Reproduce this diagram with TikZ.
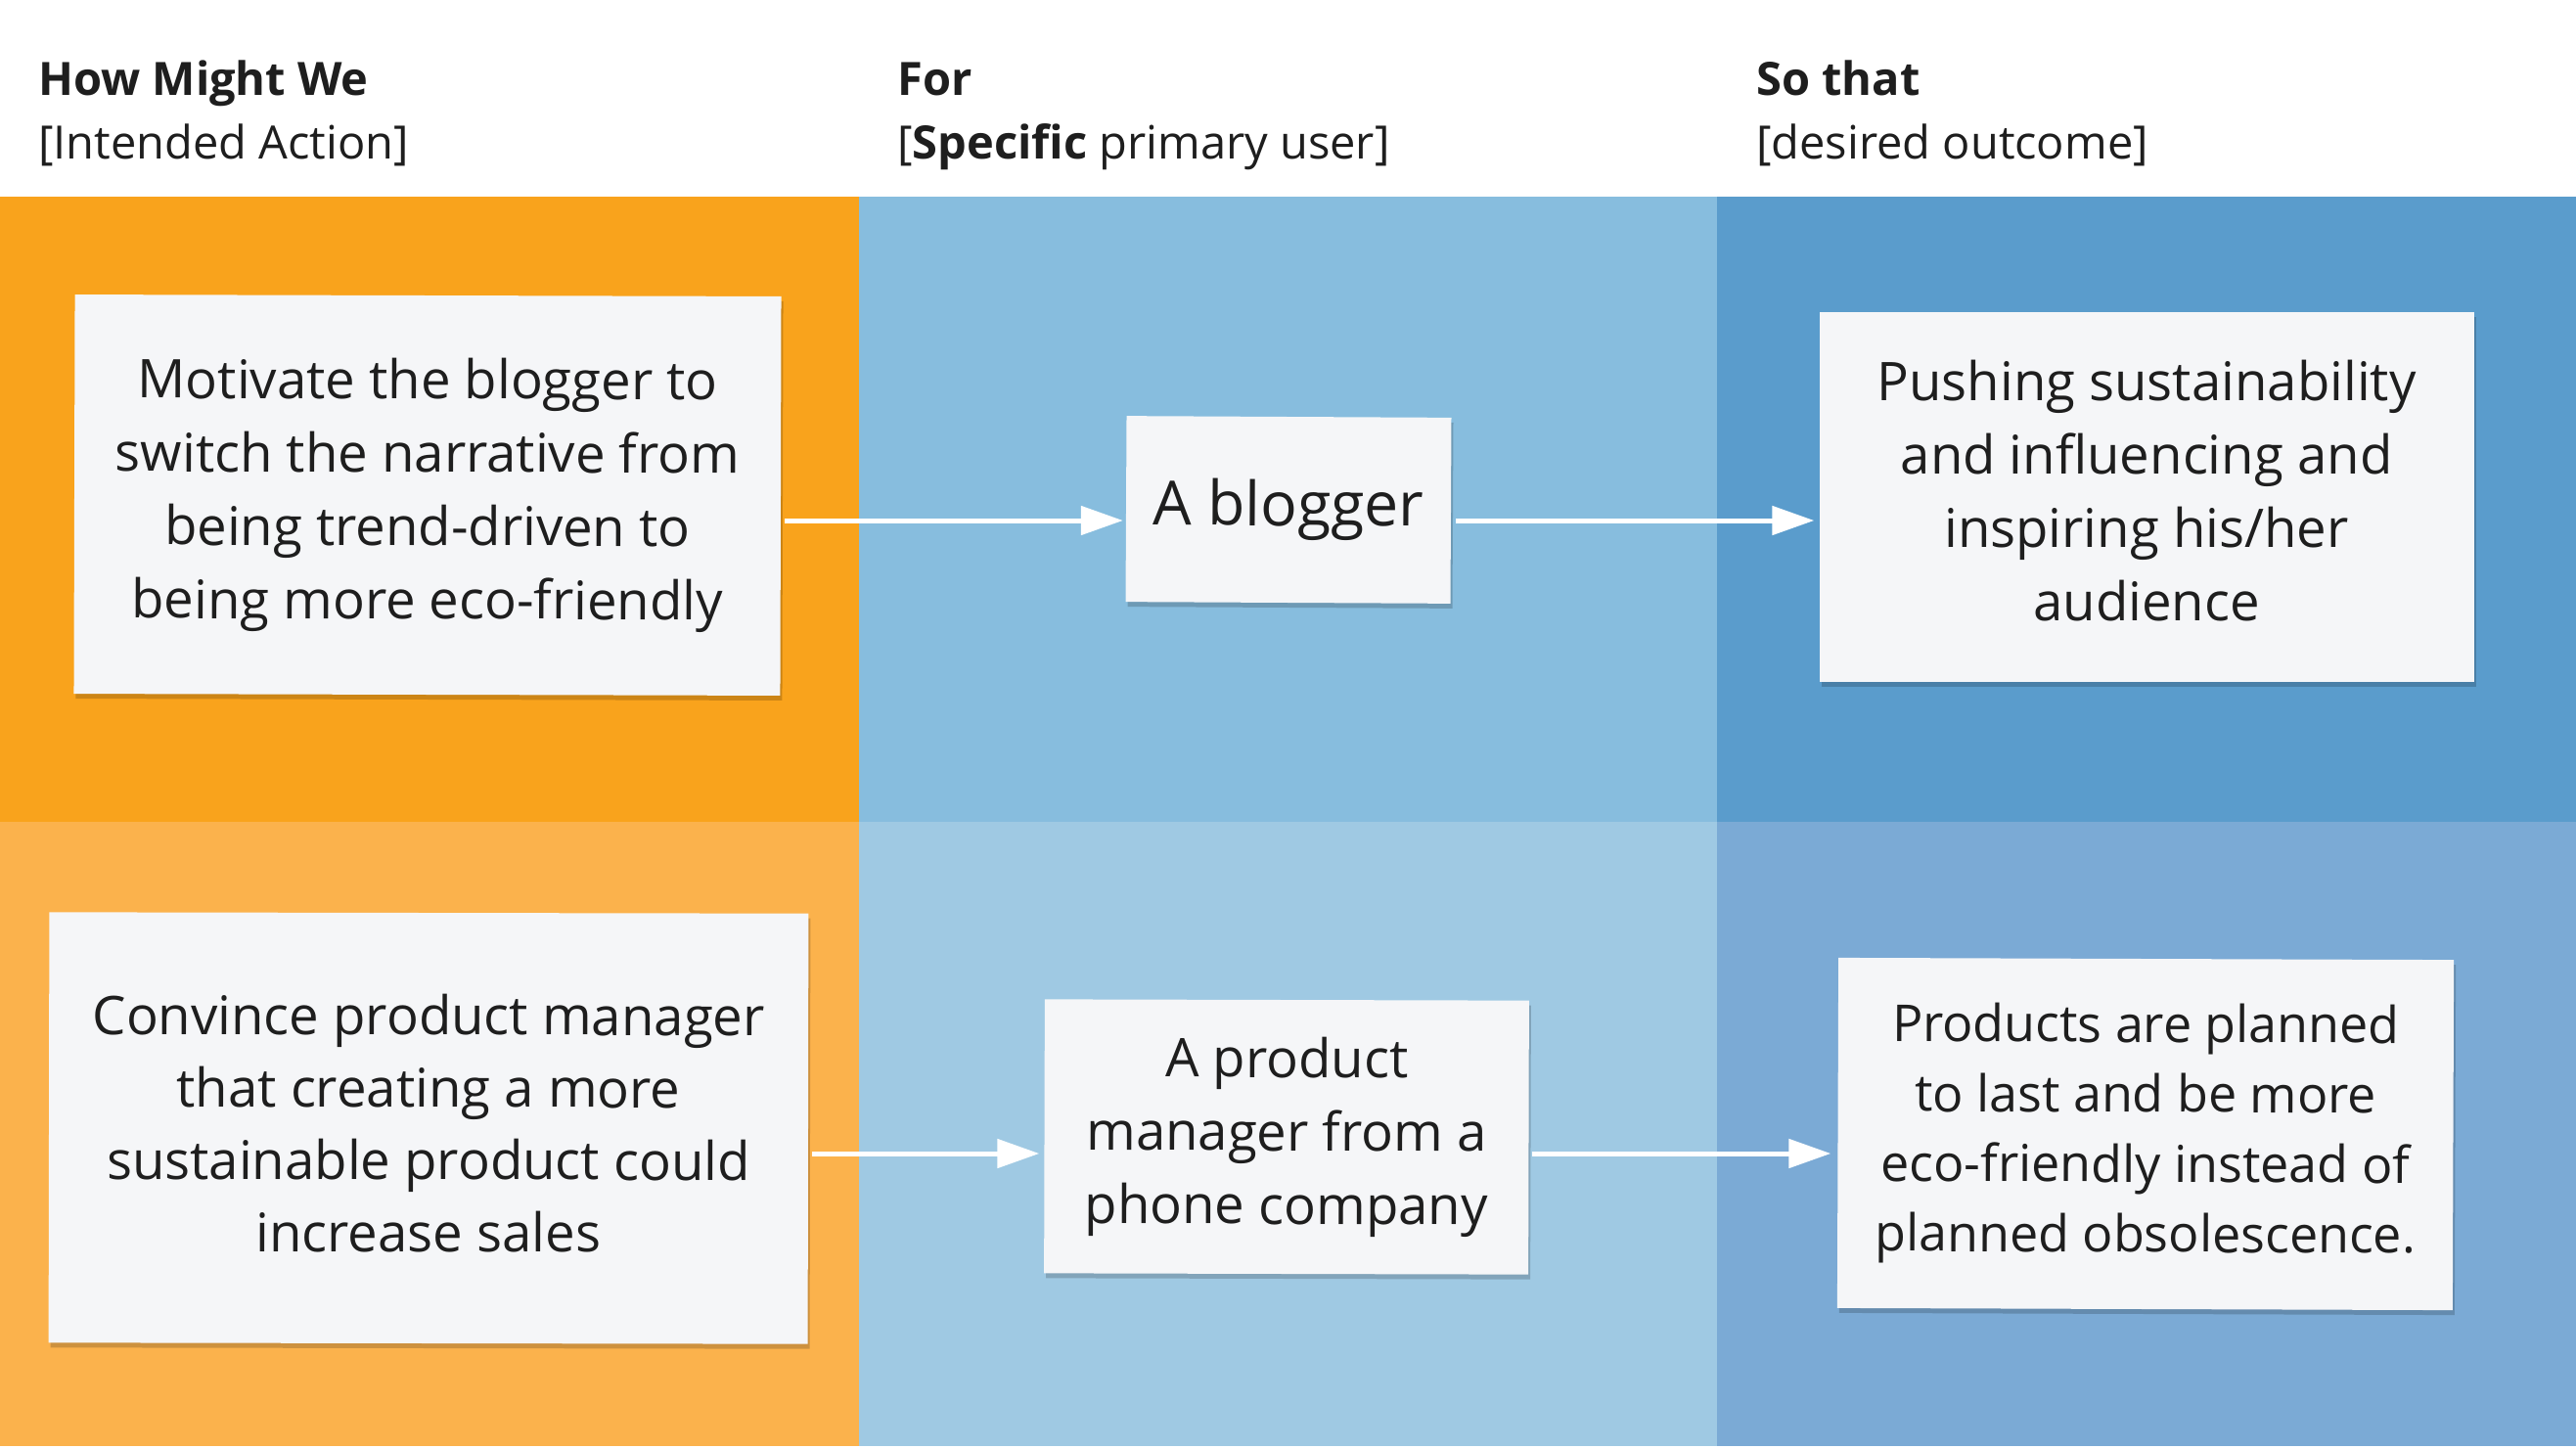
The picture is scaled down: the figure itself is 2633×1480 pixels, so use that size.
\documentclass[tikz,border=0pt]{standalone}
\usepackage{fontspec}
\setmainfont{Open Sans}
\usetikzlibrary{arrows.meta,shadows}
\definecolor{orA}{HTML}{F9A31C}
\definecolor{orB}{HTML}{FBB24C}
\definecolor{blA}{HTML}{87BDDE}
\definecolor{blB}{HTML}{9FC9E3}
\definecolor{dbA}{HTML}{5A9CCC}
\definecolor{dbB}{HTML}{7BAAD5}
\definecolor{cardc}{HTML}{F5F6F8}
\definecolor{ink}{HTML}{1E1E1E}
\tikzset{
  card/.style={fill=cardc, draw=none, inner sep=0pt, align=center, text=ink,
    font=\fontsize{54.5}{75}\selectfont,
    drop shadow={shadow xshift=2pt, shadow yshift=-5pt, opacity=0.18, fill=black}},
  arr/.style={draw=white, line width=5pt, -{Triangle[length=43pt,width=29pt]}},
  hdr/.style={anchor=base west, inner sep=0pt, text=ink, font=\fontsize{47}{60}\selectfont}
}
\begin{document}
\begin{tikzpicture}[x=1pt,y=-1pt]
\useasboundingbox (0,0) rectangle (2633,1480);
\fill[white] (0,0) rectangle (2633,1480);
% bands
\fill[orA] (0,201) rectangle (878,840);
\fill[blA] (878,201) rectangle (1755,840);
\fill[dbA] (1755,201) rectangle (2633,840);
\fill[orB] (0,840) rectangle (878,1478);
\fill[blB] (878,840) rectangle (1755,1478);
\fill[dbB] (1755,840) rectangle (2633,1478);
% headers
\node[hdr] (h1) at (39,97) {\bfseries How Might We};
\node[hdr] (h1s) at (39,162) {[Intended Action]};
\node[hdr] (h2) at (917,97) {\bfseries For};
\node[hdr] (h2s) at (917,162) {[\textbf{Specific} primary user]};
\node[hdr] (h3) at (1795,97) {\bfseries So that};
\node[hdr] (h3s) at (1795,162) {[desired outcome]};
% cards row 1
\node[card, minimum width=722pt, minimum height=408pt, rotate=-0.15] (A1) at (437,506)
  {Motivate the blogger to\\switch the narrative from\\being trend-driven to\\being more eco-friendly};
\node[card, minimum width=332pt, minimum height=190pt, rotate=-0.3, font=\fontsize{62.5}{80}\selectfont] (B1) at (1317,521)
  {A blogger};
\node[card, minimum width=669pt, minimum height=378pt, text depth=14pt] (C1) at (2194,508)
  {Pushing sustainability\\and influencing and\\inspiring his/her\\audience};
% cards row 2
\node[card, minimum width=776pt, minimum height=440pt, rotate=-0.1, font=\fontsize{54.5}{74}\selectfont, text depth=10pt] (A2) at (438,1153)
  {Convince product manager\\that creating a more\\sustainable product could\\increase sales};
\node[card, minimum width=495pt, minimum height=280pt, rotate=-0.15] (B2) at (1315,1162)
  {A product\\manager from a\\phone company};
\node[card, minimum width=629pt, minimum height=358pt, rotate=-0.2, font=\fontsize{52}{71.5}\selectfont] (C2) at (2193,1159)
  {Products are planned\\to last and be more\\eco-friendly instead of\\planned obsolescence.};
% arrow rows
\coordinate (r1) at (0,532);
\coordinate (r2) at (0,1179);
\draw[arr, shorten <=4pt, shorten >=3pt] (A1.east |- r1) -- (B1.west |- r1);
\draw[arr, shorten <=5pt, shorten >=5pt] (B1.east |- r1) -- (C1.west |- r1);
\draw[arr, shorten <=4pt, shorten >=5pt] (A2.east |- r2) -- (B2.west |- r2);
\draw[arr, shorten <=3pt, shorten >=7pt] (B2.east |- r2) -- (C2.west |- r2);
\end{tikzpicture}
\end{document}
